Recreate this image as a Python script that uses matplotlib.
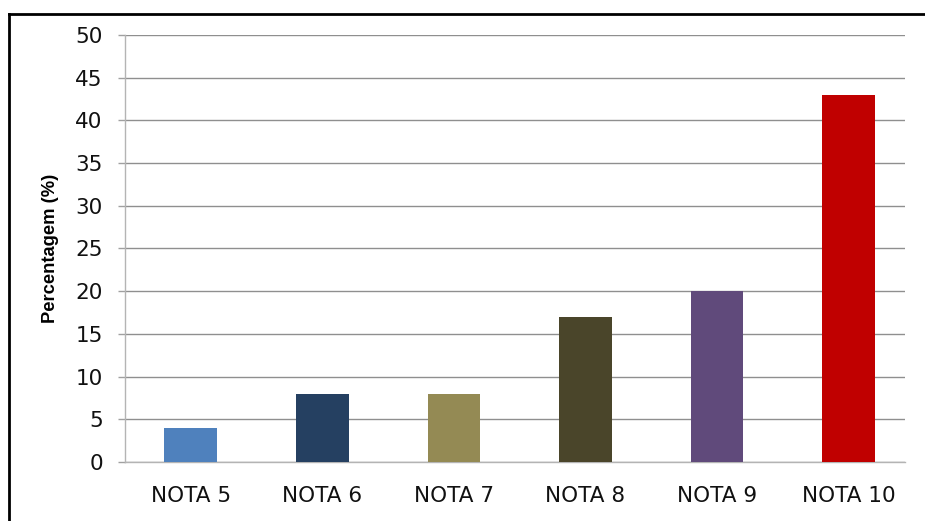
import matplotlib
matplotlib.use("Agg")
import matplotlib.pyplot as plt
from matplotlib.lines import Line2D

categories = ["NOTA 5", "NOTA 6", "NOTA 7", "NOTA 8", "NOTA 9", "NOTA 10"]
values = [4, 8, 8, 17, 20, 43]
colors = ["#4F81BD", "#254061", "#948A54", "#4A452A", "#604A7B", "#C00000"]
yticks = [0, 5, 10, 15, 20, 25, 30, 35, 40, 45, 50]

plt.rcParams['font.family'] = ['DejaVu Sans']

W, H = 925, 521
fig = plt.figure(figsize=(W/100, H/100), dpi=100)
ax = fig.add_axes([125/W, 1-462/H, (905-125)/W, (462-35)/H])

x = list(range(len(categories)))
ax.bar(x, values, width=0.4, color=colors, zorder=3)

ax.set_ylim(0, 50)
ax.set_xlim(-0.5, 5.43)
ax.set_yticks(yticks)
ax.set_xticks(x)
ax.set_xticklabels(categories)
ax.yaxis.grid(True, color="#8f8f8f", linewidth=1.0, zorder=0)
ax.set_axisbelow(True)

for s in ["top", "right"]:
    ax.spines[s].set_visible(False)
ax.spines["left"].set_color("#b4b4b4")
ax.spines["bottom"].set_color("#b4b4b4")
ax.spines["left"].set_linewidth(1.0)
ax.spines["bottom"].set_linewidth(1.0)

ax.tick_params(axis="y", length=5, color="#a0a0a0", width=1.0, pad=11, labelsize=15.5,
               labelcolor="#111111")
ax.tick_params(axis="x", length=0, pad=17, labelsize=15.5, labelcolor="#111111")

ax.set_ylabel("Percentagem (%)", fontsize=13.2, fontweight="bold", labelpad=12,
              family=['Liberation Sans', 'DejaVu Sans'])

# outer frame
fig.add_artist(Line2D([9/W, 9/W], [0, 1-14/H], transform=fig.transFigure, color="black", linewidth=2.0))
fig.add_artist(Line2D([9/W, 1], [1-14/H, 1-14/H], transform=fig.transFigure, color="black", linewidth=2.0))

fig.savefig("out.png", dpi=100)
